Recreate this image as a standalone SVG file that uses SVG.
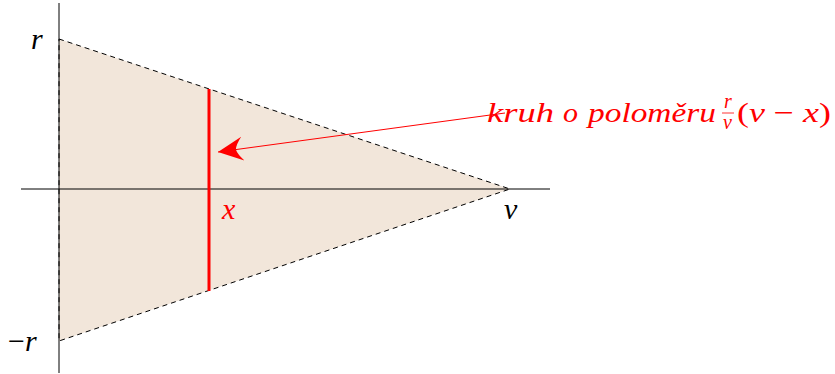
<svg xmlns="http://www.w3.org/2000/svg" width="835" height="374" viewBox="0 0 835 374">
<defs>
<marker id="st" markerWidth="26" markerHeight="26" refX="25" refY="13" orient="auto" markerUnits="userSpaceOnUse">
<path d="M25,13 L0,1 Q6,8 7,13 Q6,18 0,25 Z" fill="#ff0000"/>
</marker>
</defs>
<g id="cone">
<polygon points="59,39 510,189 59,341" fill="#f2e6da"/>
<path d="M59,39 L510,189 L59,341 Z" fill="none" stroke="#000" stroke-width="1" stroke-dasharray="5,4"/>
</g>
<g id="axes">
<line x1="21" y1="189" x2="550" y2="189" stroke="#000" stroke-width="1"/>
<line x1="59" y1="3" x2="59" y2="373" stroke="#000" stroke-width="1"/>
</g>
<g id="disk">
<line x1="209" y1="89" x2="209" y2="291" stroke="#ff0000" stroke-width="3"/>
</g>
<g id="connectors">
<line x1="505" y1="113" x2="218" y2="152" stroke="#ff0000" stroke-width="1" marker-end="url(#st)"/>
</g>
<g id="labels" font-family="Liberation Serif, serif" font-style="italic" font-size="30">
<text x="31" y="49">r</text>
<text x="8" y="351"><tspan font-style="normal">−</tspan>r</text>
<text x="504" y="219">v</text>
<text x="222" y="219" fill="#ff0000">x</text>
<text y="122" fill="#ff0000" font-size="28"><tspan x="487" textLength="67" lengthAdjust="spacingAndGlyphs">kruh</tspan><tspan x="563" textLength="15" lengthAdjust="spacingAndGlyphs">o</tspan><tspan x="588" textLength="128" lengthAdjust="spacingAndGlyphs">poloměru</tspan></text>
<text x="724" y="108" font-size="20" fill="#ff0000">r</text>
<line x1="722" y1="113" x2="734" y2="113" stroke="#ff0000" stroke-width="0.8"/>
<text x="723" y="129" font-size="20" fill="#ff0000">v</text>
<text x="737" y="122" fill="#ff0000" font-size="28" textLength="94" lengthAdjust="spacingAndGlyphs"><tspan font-style="normal">(</tspan>v <tspan font-style="normal">−</tspan> x<tspan font-style="normal">)</tspan></text>
</g>
</svg>
